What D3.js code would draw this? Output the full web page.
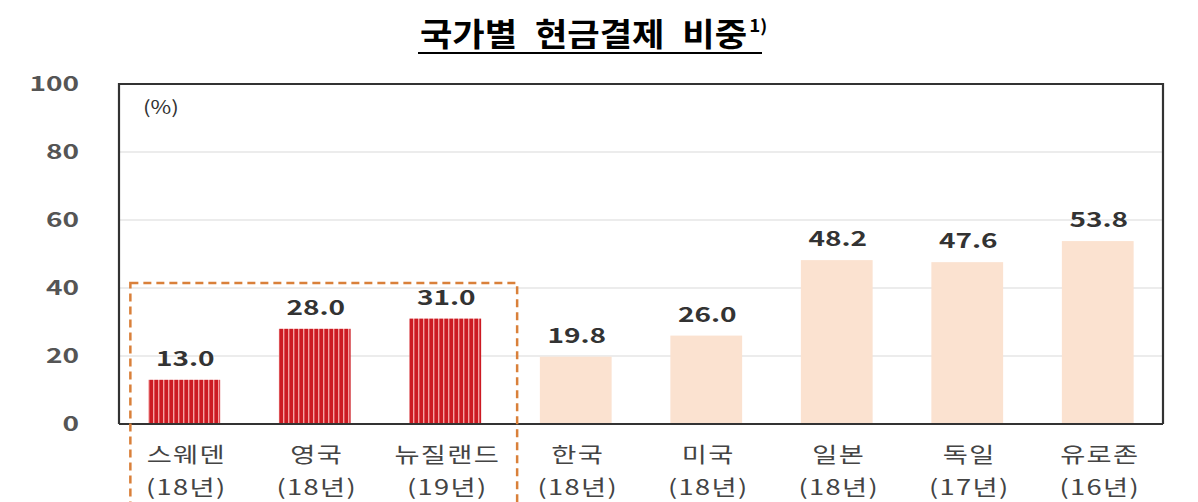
<!DOCTYPE html>
<html>
<head>
<meta charset="utf-8">
<script src="https://cdn.jsdelivr.net/npm/d3@7"></script>
<style>
  body { margin: 0; background: #fff; }
  svg { font-family: "Noto Sans CJK KR", "Noto Sans", sans-serif; }
</style>
</head>
<body>
<div id="vis"></div>
<script>
// chart data
const countries = ["스웨덴", "영국", "뉴질랜드", "한국", "미국", "일본", "독일", "유로존"];
const years = ["(18년)", "(18년)", "(19년)", "(18년)", "(18년)", "(18년)", "(17년)", "(16년)"];
const shares = [13.0, 28.0, 31.0, 19.8, 26.0, 48.2, 47.6, 53.8];
const highlighted = ["스웨덴", "영국", "뉴질랜드"];
const yTicks = [0, 20, 40, 60, 80, 100];

const width = 1198;
const height = 502;
const margin = { top: 84, right: 35, bottom: 78, left: 119 };

// the source image text looks stretched sideways
const stretch = (px, py, sx) => `translate(${px},${py}) scale(${sx},1)`;

const svg = d3.select('#vis')
  .append('svg')
  .attr('width', width)
  .attr('height', height);

// striped fill for the highlighted bars
const defs = svg.append('defs');
const pat = defs.append('pattern')
  .attr('id', 'stripes')
  .attr('patternUnits', 'userSpaceOnUse')
  .attr('width', 5)
  .attr('height', 5);
pat.append('rect').attr('width', 5).attr('height', 5).attr('fill', '#cc1a22');
pat.append('rect').attr('x', 3).attr('width', 1.4).attr('height', 5).attr('fill', '#f4a0a0');

const x = d3.scaleBand()
  .domain(countries)
  .range([margin.left, width - margin.right])
  .paddingInner(0.45)
  .paddingOuter(0.225);

const y = d3.scaleLinear()
  .domain([0, 100])
  .range([height - margin.bottom, margin.top]);

// title
const title = svg.append('text')
  .attr('transform', stretch(420, 46, 1.1))
  .style('font-size', '32px')
  .style('font-weight', 'bold')
  .style('word-spacing', '9px')
  .attr('fill', '#000')
  .text('국가별 현금결제 비중');
title.append('tspan')
  .attr('dx', 2)
  .attr('dy', -14)
  .style('font-size', '17px')
  .text('1)');
svg.append('line')
  .attr('x1', 418).attr('x2', 762)
  .attr('y1', 53).attr('y2', 53)
  .attr('stroke', '#000')
  .attr('stroke-width', 2);

// gridlines
svg.append('g')
  .selectAll('line')
  .data(yTicks.filter(d => d > 0 && d < 100))
  .enter()
  .append('line')
  .attr('x1', margin.left)
  .attr('x2', width - margin.right)
  .attr('y1', d => y(d))
  .attr('y2', d => y(d))
  .attr('stroke', '#d9d9d9')
  .attr('stroke-width', 1.2);

// y tick labels
svg.append('g')
  .selectAll('text')
  .data(yTicks)
  .enter()
  .append('text')
  .attr('transform', d => stretch(79, y(d), 1.4))
  .attr('dy', '0.35em')
  .attr('text-anchor', 'end')
  .style('font-size', '20px')
  .style('font-weight', 'bold')
  .attr('fill', '#555')
  .text(d => d);

// bars
svg.append('g')
  .selectAll('rect')
  .data(countries)
  .enter()
  .append('rect')
  .attr('x', d => x(d))
  .attr('width', x.bandwidth())
  .attr('y', (d, i) => y(shares[i]))
  .attr('height', (d, i) => y(0) - y(shares[i]))
  .attr('fill', d => highlighted.includes(d) ? 'url(#stripes)' : '#fbe2d0');

// value labels
svg.append('g')
  .selectAll('text')
  .data(countries)
  .enter()
  .append('text')
  .attr('transform', (d, i) => stretch(x(d) + x.bandwidth() / 2 + 1, y(shares[i]) - 14, 1.4))
  .attr('text-anchor', 'middle')
  .style('font-size', '20px')
  .style('font-weight', 'bold')
  .attr('fill', '#333')
  .text((d, i) => shares[i].toFixed(1));

// frame: left, top, right and baseline
const frame = svg.append('g').attr('fill', 'none').attr('stroke', '#333');
frame.append('path')
  .attr('d', `M${margin.left},${y(0)}V${y(100)}H${width - margin.right}V${y(0)}`)
  .attr('stroke-width', 2.2);
frame.append('line')
  .attr('x1', margin.left).attr('x2', width - margin.right)
  .attr('y1', y(0)).attr('y2', y(0))
  .attr('stroke-width', 2.2);

svg.append('text')
  .attr('transform', stretch(143, 114, 1.25))
  .style('font-size', '18px')
  .attr('fill', '#333')
  .text('(%)');

// category labels, two lines each
const xg = svg.append('g')
  .selectAll('g')
  .data(countries)
  .enter()
  .append('g')
  .attr('fill', '#444')
  .style('font-size', '21px')
  .attr('text-anchor', 'middle');
xg.append('text')
  .attr('transform', d => stretch(x(d) + x.bandwidth() / 2 + 2, 462, 1.3))
  .style('letter-spacing', '1px')
  .text(d => d);
xg.append('text')
  .attr('transform', d => stretch(x(d) + x.bandwidth() / 2 + 2, 495, 1.3))
  .style('letter-spacing', '1px')
  .text((d, i) => years[i]);

// dashed box round the highlighted group
const first = x(highlighted[0]);
const last = x(highlighted[highlighted.length - 1]) + x.bandwidth();
svg.append('rect')
  .attr('x', first - 18)
  .attr('y', 283)
  .attr('width', last - first + 54)
  .attr('height', 240)
  .attr('fill', 'none')
  .attr('stroke', '#d9803a')
  .attr('stroke-width', 2.5)
  .attr('stroke-dasharray', '8,5');
</script>
</body>
</html>
